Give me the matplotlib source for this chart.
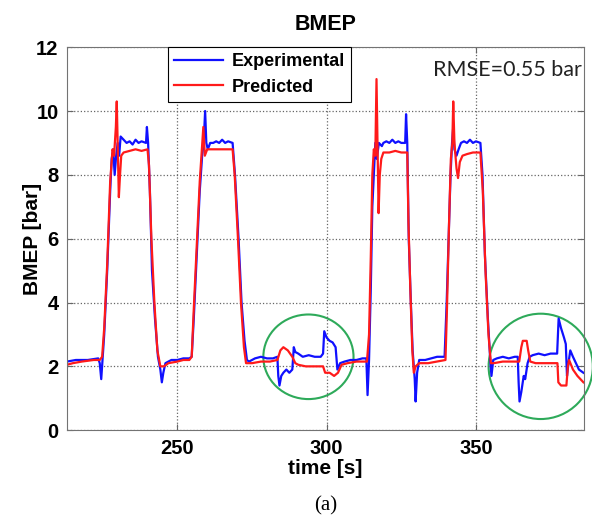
import matplotlib.pyplot as plt
from matplotlib.patches import Ellipse

# Experimental BMEP (blue), time [s] / bar
t_exp = [213.0, 216, 220, 223.5, 224.0, 224.5, 225.0, 225.5, 226.5, 227.5, 228.0, 228.5, 229.0, 229.5,
         230.0, 230.5, 231.0, 232, 233, 234, 235, 236, 237, 238, 239.5, 239.8, 240.2, 240.8, 241.5,
         242.5, 243.5, 244.3, 244.8, 245.3, 246, 248, 250, 252, 254, 254.8, 255.5, 256.5, 257.5,
         258.3, 258.8, 259.3, 259.7, 260.2, 261, 262, 263, 264, 265, 266, 267, 268.5, 269.3, 270.5,
         271.5, 272.5, 273.3, 274, 276, 278, 280, 282, 283.5, 283.8, 284.2, 284.8, 285.5, 286.5,
         287.5, 288.5, 289.0, 289.5, 290.5, 292, 294, 296, 298, 298.8, 299.2, 300, 301, 302, 303,
         303.6, 304.5, 306, 308, 310, 312, 313.3, 313.7, 314.2, 314.8, 315.3, 315.8, 316.3, 316.8,
         317.5, 318.5, 319, 320, 321, 322, 323, 324, 325, 326.3, 326.6, 327, 327.5, 328.2, 328.8,
         329.5, 329.8, 330.3, 331, 333, 335, 337, 339.5, 340.2, 341, 341.5, 342, 342.4, 342.8, 343.5,
         344.2, 345, 346, 347, 348, 349, 350, 351.5, 352.2, 353, 354, 354.8, 355.2, 355.8, 357, 359,
         361, 363, 364.0, 364.3, 364.6, 365.2, 366, 366.5, 367.3, 368, 369, 371, 373, 375, 377.2,
         377.7, 378.5, 379.5, 380.1, 380.5, 381.0, 381.6, 382.5, 383.5, 384.5, 386]
bmep_exp = [2.15, 2.2, 2.2, 2.25, 2.1, 1.6, 2.3, 3.0, 5.0, 7.5, 8.5, 8.8, 8.0, 8.6,
            9.0, 8.6, 9.2, 9.1, 9.0, 9.05, 8.95, 9.1, 9.0, 9.05, 9.0, 9.5, 9.0, 7.5, 5.0,
            3.5, 2.3, 1.9, 1.5, 1.8, 2.1, 2.2, 2.2, 2.25, 2.25, 2.3, 3.5, 5.5, 7.5,
            8.6, 9.0, 10.0, 9.0, 8.8, 9.0, 9.0, 9.05, 9.0, 9.1, 9.0, 9.05, 9.0, 8.0, 6.0,
            4.0, 2.8, 2.2, 2.15, 2.25, 2.3, 2.25, 2.25, 2.3, 1.7, 1.4, 1.7, 1.8, 1.9,
            1.8, 1.9, 2.6, 2.45, 2.4, 2.3, 2.35, 2.3, 2.3, 2.4, 3.1, 2.9, 2.8, 2.75, 2.6,
            1.9, 2.1, 2.15, 2.2, 2.2, 2.25, 2.25, 1.1, 2.2, 4.5, 7.0, 8.0, 9.0, 8.5,
            9.0, 8.9, 9.0, 9.05, 9.0, 9.1, 9.0, 9.05, 9.0, 9.0, 9.9, 9.0, 6.0, 4.0, 2.5,
            1.6, 0.9, 1.8, 2.2, 2.2, 2.25, 2.3, 2.3, 4.0, 6.5, 8.0, 9.0, 9.5, 8.8, 8.6,
            8.8, 9.0, 9.05, 9.0, 9.1, 9.0, 9.05, 9.0, 8.0, 5.5, 3.5, 2.2, 1.7, 2.2, 2.25, 2.3,
            2.25, 2.3, 2.3, 1.5, 0.9, 1.2, 1.7, 1.6, 2.1, 2.3, 2.35, 2.4, 2.35, 2.4, 2.4,
            3.5, 3.2, 2.9, 2.7, 1.7, 2.1, 2.5, 2.3, 2.1, 1.9, 1.8]

# Predicted BMEP (red)
t_pred = [213, 215, 218, 222, 224, 224.8, 225.5, 226.5, 227.5, 228.3, 228.8, 229.4, 229.7, 230.0,
          230.4, 230.8, 231.2, 232, 234, 236, 238, 240, 240.5, 241.3, 242.3, 243.3, 244.3, 245.5,
          247, 250, 252, 254, 254.8, 255.5, 256.5, 257.5, 258.2, 258.7, 259.2, 260, 262, 264, 266,
          268.5, 269.2, 270.3, 271.3, 272.3, 273, 275, 278, 281, 283.5, 284.5, 285.5, 287, 288.5,
          289.5, 290.5, 293, 296, 298.8, 299.5, 301, 302.5, 303.8, 305, 307, 310, 313.5, 314.2,
          314.8, 315.3, 315.8, 316.3, 316.7, 317.1, 317.4, 317.8, 318.3, 319, 321, 323, 325, 327,
          327.4, 328, 328.7, 329.2, 329.8, 331, 334, 337, 339.8, 340.3, 341, 341.6, 342.1, 342.4,
          342.8, 343.5, 344.0, 344.6, 345.5, 347, 349, 351.5, 352.3, 353.2, 354.2, 355, 356, 359,
          362, 364.5, 365.2, 365.7, 367, 367.5, 368.2, 370, 373, 375.5, 377.3, 377.6, 378.5, 380.3,
          380.8, 381.2, 382.5, 384, 386]
bmep_pred = [2.05, 2.1, 2.15, 2.2, 2.2, 2.3, 3.2, 5.2, 7.8, 8.8, 8.6, 9.5, 10.3, 9.0,
             7.3, 8.0, 8.6, 8.7, 8.75, 8.8, 8.75, 8.8, 8.3, 6.0, 4.0, 2.5, 2.0, 2.0,
             2.1, 2.15, 2.2, 2.2, 2.3, 3.8, 5.8, 7.8, 8.8, 9.5, 8.6, 8.8, 8.8, 8.8, 8.8,
             8.8, 8.0, 6.0, 4.0, 2.6, 2.1, 2.1, 2.15, 2.15, 2.2, 2.5, 2.6, 2.5, 2.3,
             2.1, 2.05, 2.0, 2.0, 2.0, 1.8, 1.8, 1.7, 1.8, 2.05, 2.1, 2.15, 2.15, 3.0,
             5.5, 8.0, 8.8, 8.6, 11.0, 8.5, 6.8, 8.0, 8.5, 8.7, 8.7, 8.75, 8.7, 8.7,
             6.5, 4.5, 2.5, 1.8, 2.0, 2.1, 2.1, 2.15, 2.2, 3.8, 6.5, 8.5, 9.0, 10.3,
             9.0, 8.2, 7.9, 8.4, 8.6, 8.65, 8.7, 8.7, 7.5, 5.0, 3.0, 2.1, 2.1, 2.15,
             2.15, 2.15, 2.6, 2.8, 2.8, 2.5, 2.15, 2.1, 2.1, 2.1, 2.1, 1.5, 1.4, 1.4,
             2.0, 2.2, 1.9, 1.7, 1.5]

# highlighted regions (centre t, centre bmep, width, height)
circles = [(293.9, 2.3, 30.2, 2.65), (371.7, 2.0, 34.9, 3.3)]

fig = plt.figure(figsize=(5.92, 5.24), dpi=100)
ax = fig.add_axes([0.113, 0.179, 0.8735, 0.731])

ax.plot(t_exp, bmep_exp, color='#1010ff', lw=1.6, label='Experimental')
ax.plot(t_pred, bmep_pred, color='#ff1a1a', lw=1.6, label='Predicted')

for cx, cy, w, h in circles:
    ax.add_patch(Ellipse((cx, cy), w, h, fill=False, edgecolor='#2eaa5a', lw=1.5, clip_on=False))

ax.set_xlim(213, 386.2)
ax.set_ylim(0, 12)
ax.set_xticks([250, 300, 350])
ax.set_yticks([0, 2, 4, 6, 8, 10, 12])
ax.grid(True, linestyle=':', color='0.4', lw=0.9)
ax.tick_params(direction='in', length=4, top=True, right=True, color='0.4', pad=6,
               labelsize=14.5)
for lab in ax.get_xticklabels() + ax.get_yticklabels():
    lab.set_fontweight('bold')
    lab.set_family('Liberation Sans')
for s in ax.spines.values():
    s.set_color('0.45')

ax.set_title('BMEP', fontsize=15.5, fontweight='bold', family='Liberation Sans', pad=12)
ax.set_xlabel('time [s]', fontsize=15, fontweight='bold', family='Liberation Sans', labelpad=1)
ax.set_ylabel('BMEP [bar]', fontsize=15, fontweight='bold', family='Liberation Sans', labelpad=-4)

leg = ax.legend(loc='upper left', bbox_to_anchor=(0.195, 1.0), fancybox=False,
                edgecolor='black', framealpha=1, borderaxespad=0, handlelength=2.7,
                prop={'family': 'Liberation Sans', 'weight': 'bold', 'size': 13},
                borderpad=0.35, labelspacing=0.45, handletextpad=0.5)
leg.get_frame().set_linewidth(0.8)

ax.text(0.995, 0.94, 'RMSE=0.55 bar', transform=ax.transAxes, ha='right', va='center',
        fontsize=15.5, family='Lato', color='#222222')

fig.text(0.55, 0.035, '(a)', ha='center', va='center', fontsize=15, family='Liberation Serif')

fig.savefig('out.png', dpi=100)
